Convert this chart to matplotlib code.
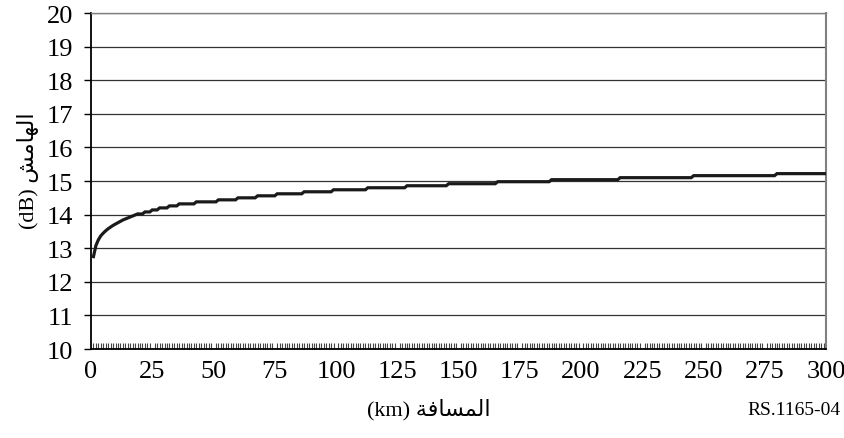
import matplotlib
matplotlib.use("Agg")
import matplotlib.pyplot as plt
from matplotlib.ticker import MultipleLocator

# ---- data ----
distance_km = [1, 2, 3, 4, 5, 6, 7, 8, 9, 10, 11, 12, 13, 14, 15, 16, 17, 18,
               19, 21, 22, 24, 25, 27, 28, 31, 32, 35, 36, 42, 43, 51, 52, 59,
               60, 67, 68, 75, 76, 86, 87, 98, 99, 112, 113, 128, 129, 145,
               146, 165, 166, 187, 188, 215, 216, 245, 246, 279, 280, 300]
margin_db = [12.75, 13.08, 13.25, 13.37, 13.45, 13.52, 13.58, 13.63, 13.68,
             13.72, 13.76, 13.80, 13.84, 13.87, 13.90, 13.93, 13.96, 13.99,
             14.02, 14.02, 14.08, 14.08, 14.14, 14.14, 14.20, 14.20, 14.26,
             14.26, 14.32, 14.32, 14.38, 14.38, 14.44, 14.44, 14.50, 14.50,
             14.56, 14.56, 14.62, 14.62, 14.68, 14.68, 14.74, 14.74, 14.80,
             14.80, 14.86, 14.86, 14.92, 14.92, 14.98, 14.98, 15.04, 15.04,
             15.10, 15.10, 15.16, 15.16, 15.22, 15.22]
x_ticks = [0, 25, 50, 75, 100, 125, 150, 175, 200, 225, 250, 275, 300]
y_ticks = [10, 11, 12, 13, 14, 15, 16, 17, 18, 19, 20]

# Arabic labels in display (shaped, visual) order
# logical: "المسافة (km)"  and  "الهامش (dB)"
xlabel_ar = "(km) " + "\uFE94\uFED3\uFE8E\uFEB4\uFEE4\uFEDF\uFE8D"
ylabel_ar = "(dB) " + "\uFEB6\uFEE3\uFE8E\uFEEC\uFEDF\uFE8D"

plt.rcParams['font.family'] = ['Liberation Serif', 'DejaVu Sans']

fig = plt.figure(figsize=(8.45, 4.39), dpi=100)
ax = fig.add_axes([0.1077, 0.2027, 0.8698, 0.7653])

ax.plot(distance_km, margin_db, color='#1a1a1a', linewidth=2.3,
        solid_joinstyle='miter', zorder=3)

ax.set_xlim(0, 300)
ax.set_ylim(10, 20)
ax.set_xticks(x_ticks)
ax.set_yticks(y_ticks)
ax.xaxis.set_minor_locator(MultipleLocator(1))

ax.grid(axis='y', color='#333333', linewidth=0.9, zorder=1)
ax.set_axisbelow(True)

for s in ['left', 'bottom']:
    ax.spines[s].set_color('black')
    ax.spines[s].set_linewidth(1.3)
ax.spines['top'].set_color('#808080')
ax.spines['top'].set_linewidth(1.0)
ax.spines['right'].set_color('#808080')
ax.spines['right'].set_linewidth(1.5)

ax.tick_params(axis='y', direction='out', length=5, width=1, color='black',
               labelsize=19, pad=8)
ax.tick_params(axis='x', which='major', direction='in', length=0,
               labelsize=19, pad=8)
ax.tick_params(axis='x', which='minor', direction='in', length=4,
               width=0.8, color='#444444')

fig.text(0.507, 0.067, xlabel_ar, ha='center', va='center', fontsize=16)
fig.text(0.033, 0.612, ylabel_ar, ha='center', va='center', fontsize=16,
         rotation=90)
fig.text(0.94, 0.066, "RS.1165-04", ha='center', va='center', fontsize=14)

fig.savefig("out.png", dpi=100)
